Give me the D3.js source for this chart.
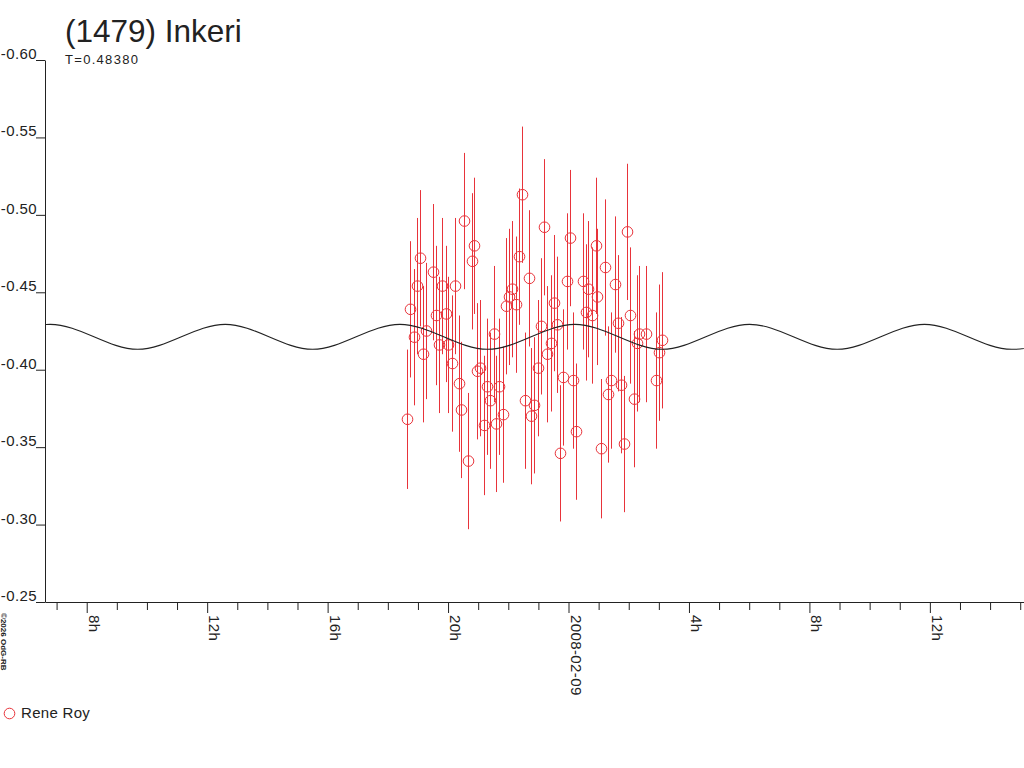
<!DOCTYPE html>
<html><head><meta charset="utf-8">
<script src="https://cdn.jsdelivr.net/npm/d3@7"></script>
<style>
html,body{margin:0;padding:0;background:#fff;}
svg{display:block;font-family:"Liberation Sans",Arial,sans-serif;}
</style>
</head><body>
<svg id="c" width="1024" height="768"></svg>
<script>
// ---------- data ----------
const title = "(1479) Inkeri";
const periodLabel = "T=0.48380";
const observer = "Rene Roy";
const credit = "\u00A92026 OdG-RB";
const epochUTC = Date.UTC(2008, 1, 9, 0, 0, 0);   // 2008-02-09 00:00 UT
const viewStartHours = -17.385;                      // hours from epoch
const viewEndHours = 15.126;

// observation times (hours from epoch), magnitudes and errors
const obsHours = [-5.35,-5.25,-5.14,-5.04,-4.94,-4.82,-4.73,-4.51,-4.41,-4.30,
  -4.20,-4.07,-3.99,-3.88,-3.76,-3.65,-3.56,-3.46,-3.34,-3.22,
  -3.13,-3.03,-2.93,-2.82,-2.70,-2.62,-2.49,-2.40,-2.30,-2.18,
  -2.07,-1.98,-1.87,-1.76,-1.65,-1.54,-1.44,-1.31,-1.24,-1.14,
  -1.01,-0.90,-0.81,-0.70,-0.59,-0.49,-0.38,-0.28,-0.17,-0.05,
  0.05,0.15,0.26,0.47,0.57,0.66,0.79,0.90,0.96,1.09,
  1.20,1.31,1.41,1.53,1.63,1.73,1.83,1.93,2.05,2.16,
  2.26,2.33,2.58,2.89,2.99,3.12];
const obsMag = [-0.368,-0.439,-0.421,-0.454,-0.472,-0.410,-0.425,-0.463,-0.435,-0.416,
  -0.454,-0.436,-0.416,-0.404,-0.454,-0.391,-0.374,-0.496,-0.341,-0.470,
  -0.480,-0.399,-0.401,-0.364,-0.389,-0.380,-0.423,-0.365,-0.389,-0.371,
  -0.441,-0.447,-0.452,-0.442,-0.473,-0.513,-0.380,-0.459,-0.370,-0.377,
  -0.401,-0.428,-0.492,-0.410,-0.417,-0.443,-0.429,-0.346,-0.395,-0.457,
  -0.485,-0.393,-0.360,-0.457,-0.437,-0.452,-0.435,-0.480,-0.447,-0.349,
  -0.466,-0.384,-0.393,-0.455,-0.430,-0.390,-0.352,-0.489,-0.435,-0.381,
  -0.417,-0.423,-0.423,-0.393,-0.411,-0.419];
const obsErr = [0.045,0.044,0.044,0.044,0.044,0.044,0.044,0.044,0.045,0.044,
  0.044,0.044,0.044,0.044,0.044,0.044,0.044,0.044,0.044,0.044,
  0.044,0.044,0.044,0.045,0.044,0.044,0.044,0.044,0.044,0.044,
  0.044,0.044,0.044,0.044,0.044,0.044,0.044,0.044,0.044,0.044,
  0.044,0.044,0.044,0.044,0.044,0.044,0.044,0.044,0.044,0.044,
  0.044,0.044,0.044,0.044,0.044,0.044,0.044,0.044,0.044,0.045,
  0.044,0.044,0.044,0.044,0.044,0.044,0.044,0.044,0.044,0.044,
  0.044,0.044,0.044,0.044,0.044,0.044];

// fitted light curve: turning points
const fitHours = [-20.11,-17.21,-14.31,-11.40,-8.50,-5.60,-2.69,0.21,3.11,6.01,8.92,11.82,14.72,17.62];
const fitMag   = [-0.4132,-0.4293,-0.4132,-0.4293,-0.4132,-0.4293,-0.4132,-0.4293,-0.4132,-0.4293,-0.4132,-0.4293,-0.4132,-0.4293];

const yTickValues = [-0.60,-0.55,-0.50,-0.45,-0.40,-0.35,-0.30,-0.25];
const yTickLabels = ["-0.60","-0.55","-0.50","-0.45","-0.40","-0.35","-0.30","-0.25"];
const xLabelEveryHours = 4;

// ---------- drawing ----------
const RED = "#e8333a", INK = "#222";
const svg = d3.select("#c");
svg.append("rect").attr("width",1024).attr("height",768).attr("fill","#fff");
const H = h => new Date(epochUTC + h * 3600e3);
const x = d3.scaleUtc().domain([H(viewStartHours), H(viewEndHours)]).range([45, 1024]);
const y = d3.scaleLinear().domain([-0.60, -0.25]).range([60, 602]);

// y axis
const gy = svg.append("g").attr("transform","translate(45,0)")
  .call(d3.axisLeft(y).tickValues(yTickValues).tickFormat((d,i)=>yTickLabels[i])
        .tickSize(9).tickSizeOuter(0).tickPadding(0));
gy.selectAll("path,line").attr("stroke", INK);
gy.selectAll("text").attr("fill", INK).attr("font-size", 15).attr("letter-spacing", 0.4)
  .attr("font-family",'"Liberation Sans",Arial,sans-serif')
  .attr("x", -8).attr("dy", -1.5);

// x axis
const gx = svg.append("g").attr("transform","translate(0,602)")
  .call(d3.axisBottom(x).ticks(d3.utcHour.every(1)).tickSize(8).tickSizeOuter(0).tickFormat(""));
gx.selectAll("path,line").attr("stroke", INK);
gx.selectAll(".tick").each(function(d){
  const hr = d.getUTCHours();
  if (hr % xLabelEveryHours !== 0) return;
  const g = d3.select(this);
  g.select("line").attr("y2", 11);
  g.select("text").remove();
  g.append("text")
    .attr("transform","translate(1.5,13) rotate(90)")
    .attr("fill", INK).attr("font-size", 15).attr("letter-spacing", 0.4)
    .attr("font-family",'"Liberation Sans",Arial,sans-serif')
    .attr("text-anchor","start")
    .text(hr === 0 ? d3.utcFormat("%Y-%m-%d")(d) : hr + "h");
});

// clip
svg.append("clipPath").attr("id","plot").append("rect")
  .attr("x",46).attr("y",0).attr("width",978).attr("height",602);

// observations
const obs = obsHours.map((h,i)=>({h, m: obsMag[i], e: obsErr[i]}));
const gObs = svg.append("g");
gObs.selectAll("line").data(obs).join("line")
  .attr("x1", d=>Math.round(x(H(d.h)))+0.5).attr("x2", d=>Math.round(x(H(d.h)))+0.5)
  .attr("y1", d=>y(d.m - d.e)).attr("y2", d=>y(d.m + d.e))
  .attr("stroke", RED).attr("stroke-width", 1);
gObs.selectAll("circle").data(obs).join("circle")
  .attr("cx", d=>Math.round(x(H(d.h)))+0.5).attr("cy", d=>y(d.m))
  .attr("r", 5.3).attr("fill","none").attr("stroke", RED).attr("stroke-width", 1);

// fitted curve
const fit = fitHours.map((h,i)=>({h, m: fitMag[i]}));
svg.append("path").datum(fit)
  .attr("clip-path","url(#plot)")
  .attr("d", d3.line().x(d=>x(H(d.h))).y(d=>y(d.m)).curve(d3.curveMonotoneX))
  .attr("fill","none").attr("stroke", INK).attr("stroke-width", 1.1);

// title & period
svg.append("text").attr("x", 65).attr("y", 41.5).attr("font-size", 31.5).attr("fill", INK).text(title);
svg.append("text").attr("x", 65).attr("y", 64).attr("font-size", 13).attr("letter-spacing", 1.3)
  .attr("fill", INK).text(periodLabel);

// credit (vertical)
svg.append("text").attr("transform","translate(1,613) rotate(90)")
  .attr("font-size", 8).attr("font-weight","bold").attr("fill", INK).text(credit);

// legend
svg.append("circle").attr("cx", 9.5).attr("cy", 713.5).attr("r", 5.3)
  .attr("fill","none").attr("stroke", RED);
svg.append("text").attr("x", 21).attr("y", 718).attr("font-size", 15).attr("letter-spacing", 0.3)
  .attr("fill", INK).text(observer);
</script>
</body></html>
